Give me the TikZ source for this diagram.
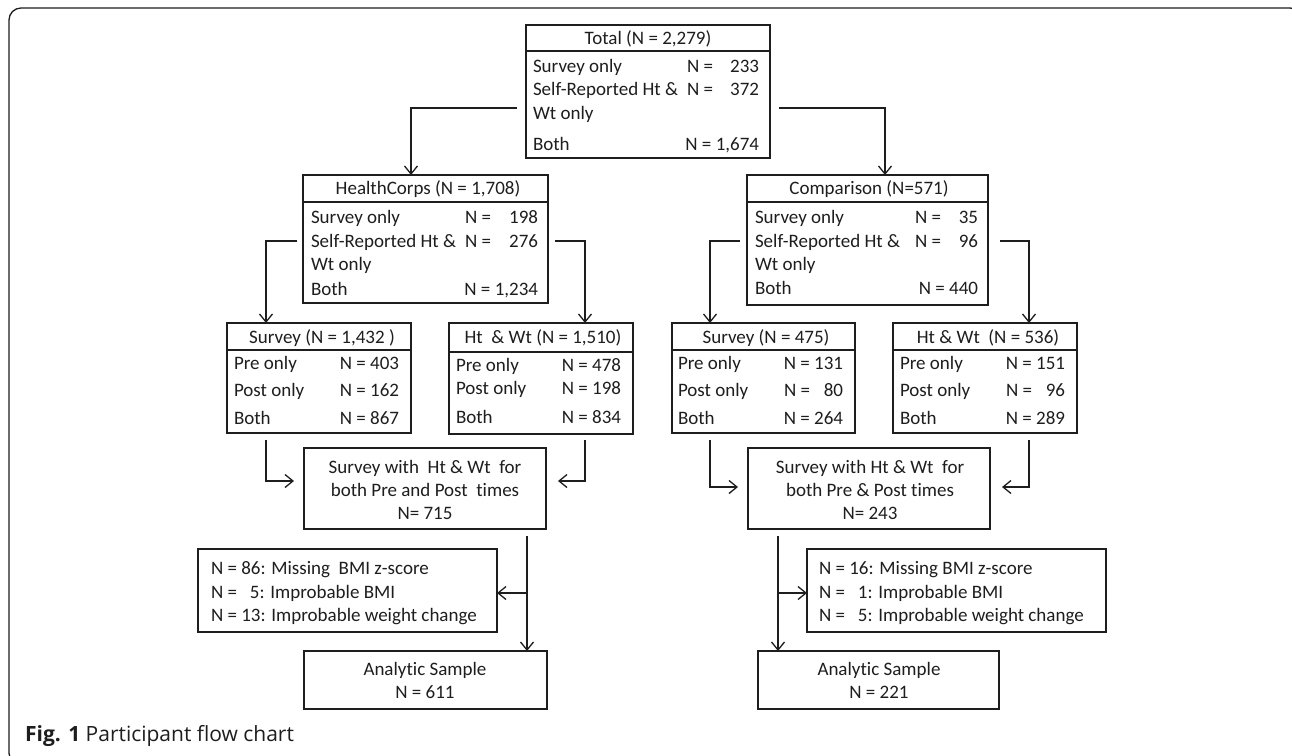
\documentclass[tikz,border=0pt]{standalone}
\usepackage{fontspec}
\setmainfont{Carlito}[Ligatures=NoCommon]
\newfontfamily\capfont{Open Sans}[Ligatures=NoCommon]
\usetikzlibrary{arrows.meta,calc}
\definecolor{ink}{HTML}{1E1E1E}
\newcommand\mkbox[5]{%
  \node[box,minimum width={(#4)-(#2)},minimum height={(#5)-(#3)}] (#1) at ({((#2)+(#4))/2},{((#3)+(#5))/2}) {};}
\newcommand\sepline[3]{\draw[sepl] (#1,#3) -- (#2,#3);}
\begin{document}
\begin{tikzpicture}[x=1pt,y=-1pt,
  box/.style={draw=ink,line width=1.4pt,inner sep=0pt,outer sep=0pt},
  sepl/.style={draw=ink,line width=1.4pt},
  txt/.style={inner sep=0pt,outer sep=0pt,text=ink,text height=12pt,text depth=0pt,font=\fontsize{19}{23}\selectfont},
  lt/.style={txt,anchor=west},
  rt/.style={txt,anchor=east},
  ct/.style={txt,anchor=center},
  link/.style={draw=ink,line width=1.3pt},
  arr/.style={link,-{Straight Barb[length=8pt,width=13pt,line width=1.3pt]}}
]
\path[use as bounding box,fill=white] (0,0) rectangle (1292,755);
\begin{scope}
\clip (0,0) rectangle (1292,755);
\draw[ink,line width=1.3pt,rounded corners=12pt] (9,8) rectangle (1302,765);
\end{scope}

% ---------- Total ----------
\mkbox{tot}{526}{25}{770}{158}
\sepline{526}{770}{51}
\node[ct] (totH) at (648,38) {Total (N = 2,279)};
\node[lt] (totA) at (533,66) {Survey only};
\node[lt] (totAn) at (687,66) {N =};
\node[rt] (totAv) at (759,66) {233};
\node[lt] (totB) at (533,89) {Self-Reported Ht \&};
\node[lt] (totBn) at (687,89) {N =};
\node[rt] (totBv) at (759,89) {372};
\node[lt] (totB2) at (533,113) {Wt only};
\node[lt] (totC) at (533,144) {Both};
\node[rt] (totCv) at (759,144) {N = 1,674};

% ---------- HealthCorps ----------
\mkbox{hc}{303}{175}{548}{303}
\sepline{303}{548}{202}
\node[ct] (hcH) at (428,188) {HealthCorps (N = 1,708)};
\node[lt] (hcA) at (311,217) {Survey only};
\node[lt] (hcAn) at (465,217) {N =};
\node[rt] (hcAv) at (538,217) {198};
\node[lt] (hcB) at (311,241) {Self-Reported Ht \&};
\node[lt] (hcBn) at (465,241) {N =};
\node[rt] (hcBv) at (538,241) {276};
\node[lt] (hcB2) at (311,264) {Wt only};
\node[lt] (hcC) at (311,289) {Both};
\node[rt] (hcCv) at (538,289) {N = 1,234};

% ---------- Comparison ----------
\mkbox{cp}{747}{175}{988}{305}
\sepline{747}{988}{202}
\node[ct] (cpH) at (869,188) {Comparison (N=571)};
\node[lt] (cpA) at (755,217) {Survey only};
\node[lt] (cpAn) at (915,217) {N =};
\node[rt] (cpAv) at (978,217) {35};
\node[lt] (cpB) at (755,241) {Self-Reported Ht \&};
\node[lt] (cpBn) at (915,241) {N =};
\node[rt] (cpBv) at (978,241) {96};
\node[lt] (cpB2) at (755,264) {Wt only};
\node[lt] (cpC) at (755,288) {Both};
\node[rt] (cpCv) at (978,288) {N = 440};

% ---------- HC Survey ----------
\mkbox{hs}{227}{323}{411}{433}
\sepline{227}{411}{350}
\node[ct] (hsH) at (322,337) {Survey (N = 1,432 )};
\node[lt] (hsA) at (234,363) {Pre only};
\node[rt] (hsAv) at (399,363) {N = 403};
\node[lt] (hsB) at (234,390) {Post only};
\node[rt] (hsBv) at (399,390) {N = 162};
\node[lt] (hsC) at (234,418) {Both};
\node[rt] (hsCv) at (399,418) {N = 867};

% ---------- HC Ht & Wt ----------
\mkbox{hw}{449}{323}{633}{434}
\sepline{449}{633}{352}
\node[ct] (hwH) at (543,337) {Ht\ \ \& Wt (N = 1,510)};
\node[lt] (hwA) at (456,365) {Pre only};
\node[rt] (hwAv) at (621,365) {N = 478};
\node[lt] (hwB) at (456,388) {Post only};
\node[rt] (hwBv) at (621,388) {N = 198};
\node[lt] (hwC) at (456,417) {Both};
\node[rt] (hwCv) at (621,417) {N = 834};

% ---------- Comp Survey ----------
\mkbox{cs}{672}{323}{855}{433}
\sepline{672}{855}{350}
\node[ct] (csH) at (766,337) {Survey (N = 475)};
\node[lt] (csA) at (678,363) {Pre only};
\node[rt] (csAv) at (843,363) {N = 131};
\node[lt] (csB) at (678,390) {Post only};
\node[lt] (csBn) at (784,390) {N =};
\node[rt] (csBv) at (843,390) {80};
\node[lt] (csC) at (678,418) {Both};
\node[rt] (csCv) at (843,418) {N = 264};

% ---------- Comp Ht & Wt ----------
\mkbox{cw}{893}{323}{1077}{433}
\sepline{893}{1077}{350}
\node[ct] (cwH) at (988,337) {Ht \& Wt\ \ (N = 536)};
\node[lt] (cwA) at (900,363) {Pre only};
\node[rt] (cwAv) at (1065,363) {N = 151};
\node[lt] (cwB) at (900,390) {Post only};
\node[lt] (cwBn) at (1006,390) {N =};
\node[rt] (cwBv) at (1065,390) {96};
\node[lt] (cwC) at (900,418) {Both};
\node[rt] (cwCv) at (1065,418) {N = 289};

% ---------- Survey with Ht & Wt ----------
\mkbox{hsw}{304}{448}{546}{529}
\node[ct] (hswA) at (425,467) {Survey with\ \ Ht \& Wt\ \ for};
\node[ct] (hswB) at (425,490) {both Pre and Post\ \ times};
\node[ct] (hswC) at (425,513) {N= 715};

\mkbox{csw}{748}{448}{990}{529}
\node[ct] (cswA) at (870,467) {Survey with Ht \& Wt\ \ for};
\node[ct] (cswB) at (870,490) {both Pre \& Post times};
\node[ct] (cswC) at (870,513) {N= 243};

% ---------- Exclusions ----------
\mkbox{hx}{198}{549}{497}{632}
\node[lt] (hxA) at (211,568) {N = 86: Missing\ \ BMI z-score};
\node[lt] (hxB) at (211,592) {N =\ \ \ 5: Improbable BMI};
\node[lt] (hxC) at (211,615) {N = 13: Improbable weight change};

\mkbox{cx}{807}{549}{1106}{632}
\node[lt] (cxA) at (819,568) {N = 16: Missing BMI z-score};
\node[lt] (cxB) at (819,592) {N =\ \ \ 1: Improbable BMI};
\node[lt] (cxC) at (819,615) {N =\ \ \ 5: Improbable weight change};

% ---------- Analytic ----------
\mkbox{ha}{304}{651}{547}{709}
\node[ct] (haA) at (425,669) {Analytic Sample};
\node[ct] (haB) at (425,692) {N = 611};

\mkbox{ca}{758}{651}{999}{709}
\node[ct] (caA) at (879,669) {Analytic Sample};
\node[ct] (caB) at (879,692) {N = 221};

% ---------- connectors ----------
\coordinate (t1) at (517,108); \coordinate (t1c) at (411,108);
\coordinate (t2) at (779,108); \coordinate (t2c) at (885,108);
\draw[arr] (t1) -- (t1c) -- (t1c |- hc.north);
\draw[arr] (t2) -- (t2c) -- (t2c |- cp.north);

\coordinate (h1) at (297,241); \coordinate (h1c) at (266,241);
\coordinate (h2) at (555,241); \coordinate (h2c) at (585,241);
\draw[arr] (h1) -- (h1c) -- (h1c |- hs.north);
\draw[arr] (h2) -- (h2c) -- (h2c |- hw.north);

\coordinate (c1) at (740,241); \coordinate (c1c) at (710,241);
\coordinate (c2) at (1000,241); \coordinate (c2c) at (1029,241);
\draw[arr] (c1) -- (c1c) -- (c1c |- cs.north);
\draw[arr] (c2) -- (c2c) -- (c2c |- cw.north);

\coordinate (s1) at (266,440); \coordinate (s1c) at (266,481); \coordinate (s1e) at (294,481);
\coordinate (s2) at (585,440); \coordinate (s2c) at (585,481); \coordinate (s2e) at (558,481);
\draw[arr] (s1) -- (s1c) -- (s1e);
\draw[arr] (s2) -- (s2c) -- (s2e);

\coordinate (s3) at (710,440); \coordinate (s3c) at (710,487); \coordinate (s3e) at (738,487);
\coordinate (s4) at (1029,440); \coordinate (s4c) at (1029,487); \coordinate (s4e) at (1002,487);
\draw[arr] (s3) -- (s3c) -- (s3e);
\draw[arr] (s4) -- (s4c) -- (s4e);

\coordinate (v1) at (527,536); \coordinate (v1b) at (527,593);
\draw[arr] (v1) -- (v1 |- ha.north);
\draw[arr] (v1b) -- (v1b -| hx.east);

\coordinate (v2) at (778,536); \coordinate (v2b) at (778,593);
\draw[arr] (v2) -- (v2 |- ca.north);
\draw[arr] (v2b) -- (v2b -| cx.west);

% ---------- caption ----------
\node[anchor=west,inner sep=0pt,text=ink,text height=15pt,text depth=0pt,font=\capfont\fontsize{21}{24}\selectfont] (cap) at (25,734) {\textbf{Fig. 1} Participant flow chart};
\end{tikzpicture}
\end{document}
